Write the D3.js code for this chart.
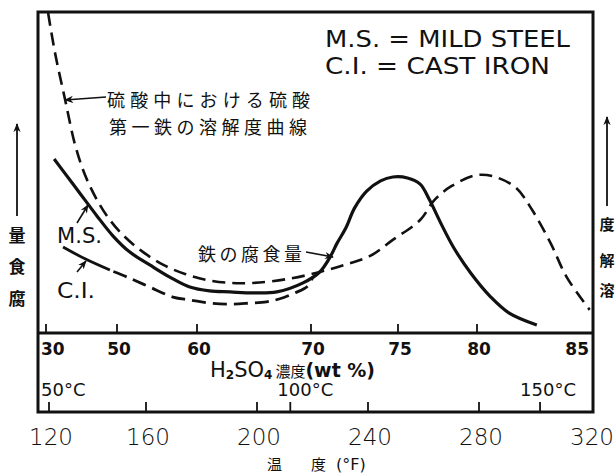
<!DOCTYPE html>
<html>
<head>
<meta charset="utf-8">
<script src="https://cdn.jsdelivr.net/npm/d3@7/dist/d3.min.js"></script>
<style>
  html, body { margin: 0; padding: 0; background: #fff; }
  svg { display: block; }
  text { fill: #111; }
</style>
</head>
<body>
<svg id="chart" width="616" height="475"></svg>
<script>
// H2SO4 concentration ticks (wt %), temperature ticks (F and C)
var wtTicks = [30, 50, 60, 70, 75, 80, 85];
var fTicks = [120, 160, 200, 240, 280, 320];
var cTicks = [50, 100, 150];

// [wt %, relative amount]
var solubility = [
  [30.6, 99.7], [32.5, 87.5], [35.4, 72.6], [38.2, 58.6], [41.0, 49.2], [44.4, 41.4],
  [48.0, 35.2], [51.0, 29.9], [53.1, 25.5], [55.8, 21.2], [58.5, 18.4], [60.9, 16.5],
  [62.9, 15.6], [64.9, 15.6], [67.9, 16.8], [70.5, 19.0], [72.1, 21.5], [73.4, 24.0],
  [74.7, 29.0], [76.4, 35.2], [77.3, 41.4], [78.4, 45.8], [80.0, 49.2], [80.8, 48.6],
  [81.7, 45.2], [82.4, 38.3], [83.2, 28.0], [83.9, 17.4], [84.9, 7.2]
];
var msCorrosion = [
  [32.3, 54.2], [34.8, 50.5], [37.6, 46.4], [41.0, 41.4], [44.4, 36.4], [48.9, 30.2],
  [51.6, 25.2], [54.1, 21.2], [56.6, 17.4], [59.1, 14.3], [61.1, 13.1], [62.9, 12.8],
  [64.9, 12.5], [67.0, 12.8], [69.3, 15.6], [70.5, 19.0], [71.1, 23.7], [71.5, 28.0],
  [72.0, 32.7], [72.5, 38.9], [73.2, 44.2], [74.0, 47.4], [74.7, 48.6], [75.6, 48.3],
  [76.4, 46.4], [77.0, 41.4], [77.7, 34.3], [78.5, 26.8], [79.6, 18.7], [80.6, 11.2],
  [81.4, 6.2], [82.6, 2.5]
];
var ciCorrosion = [
  [34.8, 26.8], [41.0, 23.1], [48.0, 19.6], [51.3, 17.4], [54.1, 14.3], [57.0, 11.2],
  [59.1, 10.3], [61.1, 9.3], [62.9, 9.0], [64.6, 9.3], [66.1, 9.7], [67.2, 10.6],
  [68.6, 12.5], [69.7, 14.6], [70.1, 17.4]
];
var ciSolidUntil = 48;

var LAT = '"DejaVu Sans", sans-serif';
var JP = '"Noto Sans CJK JP", sans-serif';

var svg = d3.select('#chart');
var L = 38, R = 593, T = 12, MID = 333, B = 412;

// the concentration axis of the original is not linear, so use a polylinear scale
var x = d3.scaleLinear().domain(wtTicks).range([46, 117, 197, 311, 398, 477, 592]);
var xF = d3.scaleLinear().domain([120, 160, 320]).range([49, 146, 590]);
var y = d3.scaleLinear().domain([0, 100]).range([MID, T]);
function c2f(c) { return c * 9 / 5 + 32; }

var defs = svg.append('defs');
defs.append('marker').attr('id', 'arr')
  .attr('viewBox', '0 0 10 10').attr('refX', 9).attr('refY', 5)
  .attr('markerWidth', 9).attr('markerHeight', 9).attr('markerUnits', 'userSpaceOnUse')
  .attr('orient', 'auto')
  .append('path').attr('d', 'M0,1 L10,5 L0,9 L3,5 z').attr('fill', '#111');

// curves
var line = d3.line().x(function(d){ return x(d[0]); }).y(function(d){ return y(d[1]); })
  .curve(d3.curveCatmullRom.alpha(0.5));
var g = svg.append('g').attr('fill', 'none').attr('stroke', '#111').attr('stroke-linecap', 'butt');
g.append('path').attr('d', line(solubility)).attr('stroke-width', 2.6).attr('stroke-dasharray', '13,7');
g.append('path').attr('d', line(msCorrosion)).attr('stroke-width', 3.2);
g.append('path').attr('d', line(ciCorrosion.filter(function(d){ return d[0] <= ciSolidUntil; })))
  .attr('stroke-width', 2.8);
g.append('path').attr('d', line(ciCorrosion.filter(function(d){ return d[0] >= ciSolidUntil; })))
  .attr('stroke-width', 2.8).attr('stroke-dasharray', '14,7').attr('stroke-dashoffset', -4);

// frame
var frame = svg.append('g').attr('stroke', '#111').attr('fill', 'none');
frame.append('rect').attr('x', L).attr('y', T).attr('width', R - L).attr('height', B - T).attr('stroke-width', 3);
frame.append('line').attr('x1', L).attr('x2', R).attr('y1', MID).attr('y2', MID).attr('stroke-width', 3);

// concentration ticks and labels
frame.selectAll('.wt').data(wtTicks.slice(0, -1)).enter().append('line')
  .attr('x1', x).attr('x2', x).attr('y1', MID).attr('y2', MID - 9).attr('stroke-width', 1.8);
svg.selectAll('.wtl').data(wtTicks).enter().append('text')
  .attr('x', function(d, i){ return i === 0 ? L + 3 : (i === wtTicks.length - 1 ? R - 4 : x(d) + 2); })
  .attr('y', 355)
  .attr('text-anchor', function(d, i){ return i === 0 ? 'start' : (i === wtTicks.length - 1 ? 'end' : 'middle'); })
  .attr('font-family', LAT).attr('font-size', 17).attr('font-weight', 'bold')
  .text(function(d){ return d; });

var h2 = svg.append('text').attr('x', 210).attr('y', 377).attr('font-family', LAT).attr('font-size', 21);
h2.append('tspan').text('H');
h2.append('tspan').attr('font-size', 12).attr('font-weight', 'bold').attr('dy', 2).text('2');
h2.append('tspan').attr('dy', -2).text('SO');
h2.append('tspan').attr('font-size', 12).attr('font-weight', 'bold').attr('dy', 2).text('4');
h2.append('tspan').attr('dy', -2).attr('font-family', JP).attr('font-size', 15).attr('dx', 3).text('濃度');
h2.append('tspan').attr('font-weight', 'bold').attr('font-size', 19).text('(wt %)');

// temperature ticks (a C tick that falls on an F tick is drawn once)
frame.selectAll('.f').data(fTicks.slice(0, -1)).enter().append('line')
  .attr('x1', xF).attr('x2', xF).attr('y1', B).attr('y2', B - 10).attr('stroke-width', 1.8);
var cDrawn = cTicks.filter(function(c){
  return fTicks.every(function(f){ return Math.abs(xF(f) - xF(c2f(c))) > 8; });
});
frame.selectAll('.c').data(cDrawn).enter().append('line')
  .attr('x1', function(d){ return xF(c2f(d)); }).attr('x2', function(d){ return xF(c2f(d)); })
  .attr('y1', B).attr('y2', B - 10).attr('stroke-width', 1.8);
var cOff = [-11, -13, -20];
svg.selectAll('.cl').data(cTicks).enter().append('text')
  .attr('x', function(d, i){ return i === 0 ? L + 3 : xF(c2f(d)) + cOff[i]; })
  .attr('y', 396).attr('font-family', LAT).attr('font-size', 18)
  .text(function(d){ return d + '°C'; });
svg.selectAll('.fl').data(fTicks).enter().append('text')
  .attr('x', function(d){ return xF(d) + 2; }).attr('y', 445).attr('text-anchor', 'middle')
  .attr('font-family', LAT).attr('font-size', 23).attr('font-weight', 300)
  .text(function(d){ return d; });
var tl = svg.append('text').attr('y', 470).attr('font-family', JP).attr('font-size', 15);
tl.append('tspan').attr('x', 267).text('温');
tl.append('tspan').attr('x', 311).text('度');
tl.append('tspan').attr('x', 336).attr('font-family', LAT).attr('font-size', 16).text('(°F)');

// side labels with arrows
function sideLabel(cx, chars, ys, size, arrowFrom, arrowTo) {
  svg.append('line').attr('x1', cx).attr('x2', cx).attr('y1', arrowFrom).attr('y2', arrowTo)
    .attr('stroke', '#111').attr('stroke-width', 1.8).attr('marker-end', 'url(#arr)');
  chars.forEach(function(c, i){
    svg.append('text').attr('x', cx).attr('y', ys[i]).attr('text-anchor', 'middle')
      .attr('dominant-baseline', 'central').attr('font-family', JP).attr('font-size', size)
      .attr('font-weight', 'bold').text(c);
  });
}
sideLabel(17, ['量', '食', '腐'], [234, 265, 297], 17, 216, 124);
sideLabel(607, ['度', '解', '溶'], [223, 259, 289], 15, 206, 117);

// legend
svg.append('text').attr('x', 325).attr('y', 47).attr('font-family', LAT).attr('font-size', 23)
  .attr('textLength', 245).attr('lengthAdjust', 'spacingAndGlyphs').text('M.S. = MILD STEEL');
svg.append('text').attr('x', 325).attr('y', 74).attr('font-family', LAT).attr('font-size', 23)
  .attr('textLength', 225).attr('lengthAdjust', 'spacingAndGlyphs').text('C.I. = CAST IRON');

// annotations
function jpText(tx, ty, size, len, s) {
  svg.append('text').attr('x', tx).attr('y', ty).attr('font-family', JP).attr('font-size', size)
    .attr('textLength', len).attr('lengthAdjust', 'spacing').text(s);
}
jpText(107, 107, 18, 203, '硫酸中における硫酸');
jpText(109, 134, 18, 198, '第一鉄の溶解度曲線');
jpText(198, 261, 18, 104, '鉄の腐食量');

function arrow(x1, y1, x2, y2) {
  svg.append('line').attr('x1', x1).attr('y1', y1).attr('x2', x2).attr('y2', y2)
    .attr('stroke', '#111').attr('stroke-width', 1.6).attr('marker-end', 'url(#arr)');
}
arrow(106, 97, 65, 100);
arrow(306, 252, 333, 257);
arrow(77, 223, 88, 205);
arrow(77, 272, 86, 261);

svg.append('text').attr('x', 57).attr('y', 243).attr('font-family', LAT).attr('font-size', 22)
  .attr('textLength', 45).attr('lengthAdjust', 'spacingAndGlyphs').text('M.S.');
svg.append('text').attr('x', 57).attr('y', 298).attr('font-family', LAT).attr('font-size', 22)
  .attr('textLength', 38).attr('lengthAdjust', 'spacingAndGlyphs').text('C.I.');
</script>
</body>
</html>
